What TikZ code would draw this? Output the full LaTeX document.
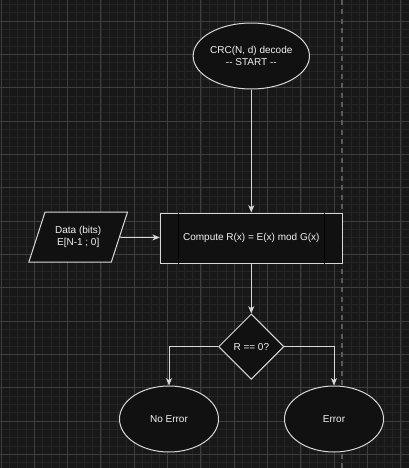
\documentclass[tikz,border=0pt]{standalone}
\usepackage{fontspec}
\setmainfont{Liberation Sans}
\usetikzlibrary{shapes.geometric,arrows.meta,positioning,calc}

\definecolor{canvas}{HTML}{181818}
\definecolor{minorgrid}{HTML}{242424}
\definecolor{majorgrid}{HTML}{3E3E3E}
\definecolor{pagebreak}{HTML}{5A5A5A}
\definecolor{shapefill}{HTML}{111111}
\definecolor{stroke}{HTML}{D8D8D8}
\definecolor{label}{HTML}{F2F2F2}

\begin{document}
\begin{tikzpicture}[
    x=0.75pt, y=-0.75pt,
    every node/.style={
        font=\fontsize{7.5pt}{8.8pt}\selectfont,
        text=label,
        align=center,
        inner sep=0pt
    },
    startstop/.style={
        ellipse,
        draw=stroke,
        line width=0.75pt,
        fill=shapefill,
        minimum width=74.25pt,
        minimum height=49.5pt
    },
    io/.style={
        trapezium,
        trapezium left angle=72,
        trapezium right angle=108,
        draw=stroke,
        line width=0.75pt,
        fill=shapefill,
        inner ysep=10.8pt,
        minimum width=74pt,
        minimum height=37.5pt,
        trapezium stretches body=true
    },
    process/.style={
        rectangle,
        draw=stroke,
        line width=0.75pt,
        fill=shapefill,
        minimum width=136.5pt,
        minimum height=37.5pt
    },
    decision/.style={
        diamond,
        draw=stroke,
        line width=0.75pt,
        fill=shapefill,
        aspect=1,
        minimum width=49pt,
        minimum height=49pt
    },
    line/.style={draw=stroke, line width=0.75pt, -{Stealth[length=5.5pt,width=4.5pt,inset=1.5pt]}}
]

% Canvas and grid
\useasboundingbox (0,0) rectangle (409,468);
\fill [canvas] (0,0) rectangle (409,468);
\foreach \i in {0,...,49}
    \draw [minorgrid, line width=0.75pt] ({1+\i*8.3333},0) -- ({1+\i*8.3333},468);
\foreach \i in {0,...,56}
    \draw [minorgrid, line width=0.75pt] (0,{4.333+\i*8.3333}) -- (409,{4.333+\i*8.3333});
\foreach \i in {0,...,12}
    \draw [majorgrid, line width=0.75pt] ({1+\i*33.333},0) -- ({1+\i*33.333},468);
\foreach \i in {0,...,13}
    \draw [majorgrid, line width=0.75pt] (0,{21+\i*33.333}) -- (409,{21+\i*33.333});
\draw [pagebreak, line width=1.2pt, dash pattern=on 3.75pt off 3.2pt] (342,0) -- (342,468);

% Start
\node [startstop] (start) at (251.3,56) {CRC(N, d) decode\\{-}{-} START {-}{-}};

% Computation
\node [process, below=92.25pt of start] (compute) {Compute R(x) = E(x) mod G(x)};
\draw [stroke, line width=0.75pt] ($(compute.north west)+(18.5,0)$) -- ($(compute.south west)+(18.5,0)$);
\draw [stroke, line width=0.75pt] ($(compute.north east)+(-18.5,0)$) -- ($(compute.south east)+(-18.5,0)$);

% Input data
\node [io] (data) at (78.2,237) {Data (bits)\\E[N-1 ; 0]};

% Decision and results
\node [decision, below=37.5pt of compute] (check) {R == 0?};
\node [startstop] (noerr) at (169,419) {No Error};
\node [startstop] (err) at (334,419) {Error};

% Connections
\draw [line] (start) -- (compute);
\draw [line] (data) -- (compute);
\draw [line] (compute) -- (check);
\draw [line] (check.west) -| (noerr.north);
\draw [line] (check.east) -| (err.north);

\end{tikzpicture}
\end{document}
